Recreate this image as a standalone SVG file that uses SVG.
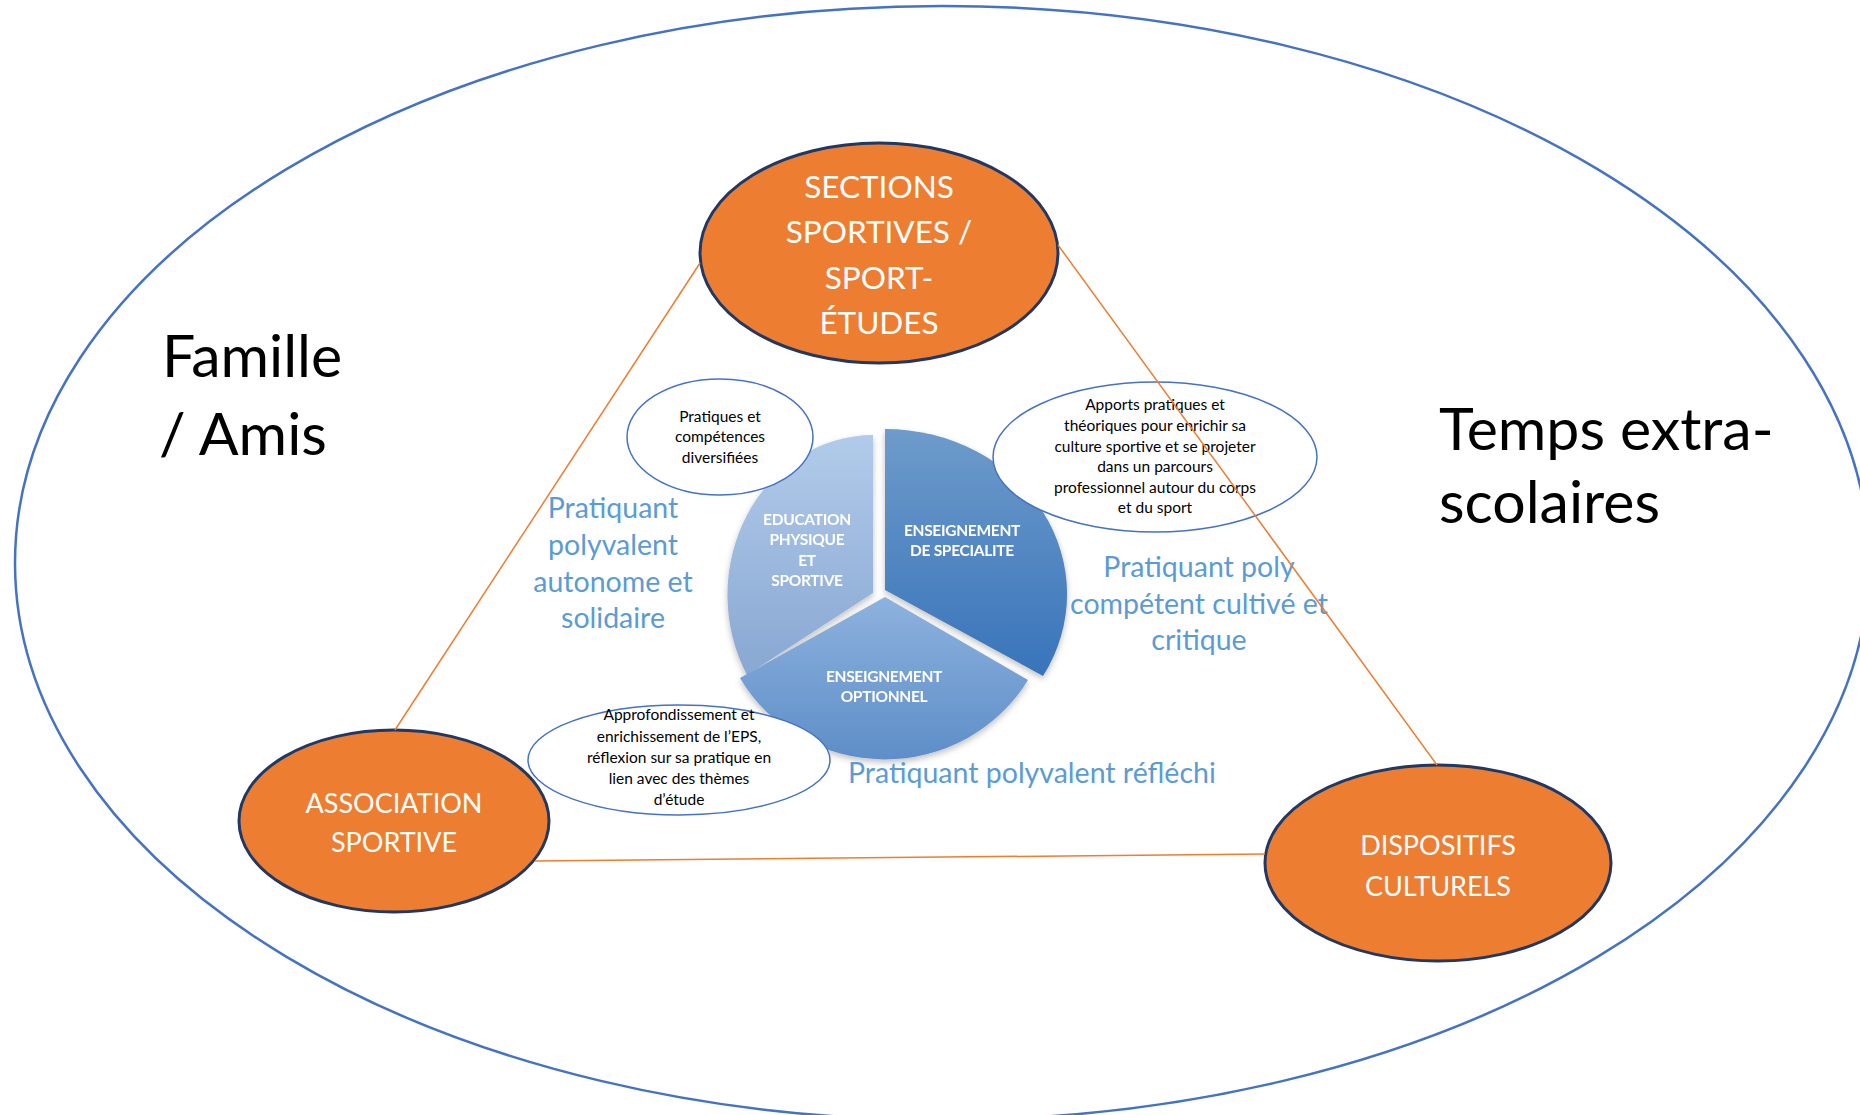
<svg xmlns="http://www.w3.org/2000/svg" width="1860" height="1115" viewBox="0 0 1860 1115">
<defs>
<style>
.big{fill:none;stroke:#4472C4;stroke-width:2.5}
.node{fill:#ED7D31;stroke:#1F3864;stroke-width:3}
.ntext{font-family:Lato,"Liberation Sans",sans-serif;fill:#FFFFFF;text-anchor:middle}
.conn{stroke:#ED7D31;stroke-width:1.5;fill:none}
.bubble{fill:#FFFFFF;stroke:#4472C4;stroke-width:1.5}
.btext{font-family:Lato,"Liberation Sans",sans-serif;font-size:15.5px;fill:#000000;text-anchor:middle}
.ptext{font-family:Lato,"Liberation Sans",sans-serif;font-size:15.5px;font-weight:bold;fill:#FFFFFF;text-anchor:middle;letter-spacing:-0.3px}
.blue{font-family:Lato,"Liberation Sans",sans-serif;font-size:28.5px;fill:#5B9BD5}
.ctx{font-family:Lato,"Liberation Sans",sans-serif;font-size:59px;fill:#000000}
</style>
<linearGradient id="gEps" x1="0" y1="0" x2="0" y2="1">
<stop offset="0" stop-color="#B2CBEA"/>
<stop offset="1" stop-color="#88A7D2"/>
</linearGradient>
<linearGradient id="gSpec" x1="0" y1="0" x2="0" y2="1">
<stop offset="0" stop-color="#6E9BCB"/>
<stop offset="1" stop-color="#3874BA"/>
</linearGradient>
<linearGradient id="gOpt" x1="0" y1="0" x2="0" y2="1">
<stop offset="0" stop-color="#8DB2DE"/>
<stop offset="1" stop-color="#5E8EC8"/>
</linearGradient>
<filter id="sh" x="-10%" y="-10%" width="130%" height="130%">
<feDropShadow dx="0" dy="3" stdDeviation="3" flood-color="#000000" flood-opacity="0.25"/>
</filter>
</defs>

<g id="context">
<ellipse class="big" cx="942" cy="563" rx="927" ry="557"/>
<text class="ctx" x="162" y="377">Famille</text>
<text class="ctx" x="159" y="455">/ Amis</text>
<text class="ctx" x="1439" y="450">Temps extra-</text>
<text class="ctx" x="1439" y="523">scolaires</text>
</g>

<g id="node-sections">
<ellipse class="node" cx="879" cy="253" rx="179" ry="110"/>
<text class="ntext" font-size="31.5" x="879" y="198">SECTIONS</text>
<text class="ntext" font-size="31.5" x="879" y="243">SPORTIVES /</text>
<text class="ntext" font-size="31.5" x="879" y="289">SPORT-</text>
<text class="ntext" font-size="31.5" x="879" y="334">ÉTUDES</text>
</g>

<g id="node-association">
<ellipse class="node" cx="394" cy="821" rx="155" ry="91"/>
<text class="ntext" font-size="27" x="394" y="813">ASSOCIATION</text>
<text class="ntext" font-size="27" x="394" y="852">SPORTIVE</text>
</g>

<g id="node-dispositifs">
<ellipse class="node" cx="1438" cy="863" rx="173" ry="98"/>
<text class="ntext" font-size="27" x="1438" y="855">DISPOSITIFS</text>
<text class="ntext" font-size="27" x="1438" y="896">CULTURELS</text>
</g>

<g id="pie" filter="url(#sh)">
<g id="seg-eps">
<path d="M873 593 L747 675 A146 160 0 0 1 873 435 Z" fill="url(#gEps)"/>
<text class="ptext" x="807" y="525">EDUCATION</text>
<text class="ptext" x="807" y="545">PHYSIQUE</text>
<text class="ptext" x="807" y="566">ET</text>
<text class="ptext" x="807" y="586">SPORTIVE</text>
</g>
<g id="seg-specialite">
<path d="M885 590 L885 429 A182 165 0 0 1 1043 676 Z" fill="url(#gSpec)"/>
<text class="ptext" x="962" y="536">ENSEIGNEMENT</text>
<text class="ptext" x="962" y="556">DE SPECIALITE</text>
</g>
<g id="seg-optionnel">
<path d="M885 597 L1028 680 A166 160 0 0 1 740 678 Z" fill="url(#gOpt)"/>
<text class="ptext" x="884" y="682">ENSEIGNEMENT</text>
<text class="ptext" x="884" y="702">OPTIONNEL</text>
</g>
</g>

<g id="bubble-pratiques">
<ellipse class="bubble" cx="720" cy="437" rx="93" ry="58"/>
<text class="btext" x="720" y="422">Pratiques et</text>
<text class="btext" x="720" y="442">compétences</text>
<text class="btext" x="720" y="463">diversifiées</text>
</g>

<g id="bubble-apports">
<ellipse class="bubble" cx="1155" cy="457" rx="162" ry="75"/>
<text class="btext" x="1155" y="410">Apports pratiques et</text>
<text class="btext" x="1155" y="431">théoriques pour enrichir sa</text>
<text class="btext" x="1155" y="452">culture sportive et se projeter</text>
<text class="btext" x="1155" y="472">dans un parcours</text>
<text class="btext" x="1155" y="493">professionnel autour du corps</text>
<text class="btext" x="1155" y="513">et du sport</text>
</g>

<g id="bubble-approfondissement">
<ellipse class="bubble" cx="679" cy="760" rx="151" ry="55"/>
<text class="btext" x="679" y="720">Approfondissement et</text>
<text class="btext" x="679" y="742">enrichissement de l’EPS,</text>
<text class="btext" x="679" y="763">réflexion sur sa pratique en</text>
<text class="btext" x="679" y="784">lien avec des thèmes</text>
<text class="btext" x="679" y="805">d’étude</text>
</g>

<g id="label-autonome">
<text class="blue" text-anchor="middle" x="613" y="518">Pratiquant</text>
<text class="blue" text-anchor="middle" x="613" y="555">polyvalent</text>
<text class="blue" text-anchor="middle" x="613" y="592">autonome et</text>
<text class="blue" text-anchor="middle" x="613" y="628">solidaire</text>
</g>

<g id="label-critique">
<text class="blue" text-anchor="middle" x="1199" y="577">Pratiquant poly</text>
<text class="blue" text-anchor="middle" x="1199" y="614">compétent cultivé et</text>
<text class="blue" text-anchor="middle" x="1199" y="650">critique</text>
</g>

<g id="label-reflechi">
<text class="blue" x="848" y="783">Pratiquant polyvalent réfléchi</text>
</g>

<g id="connectors">
<line class="conn" x1="700" y1="263" x2="395" y2="730"/>
<line class="conn" x1="1058" y1="245" x2="1437" y2="765"/>
<line class="conn" x1="535" y1="861" x2="1265" y2="854"/>
</g>
</svg>
